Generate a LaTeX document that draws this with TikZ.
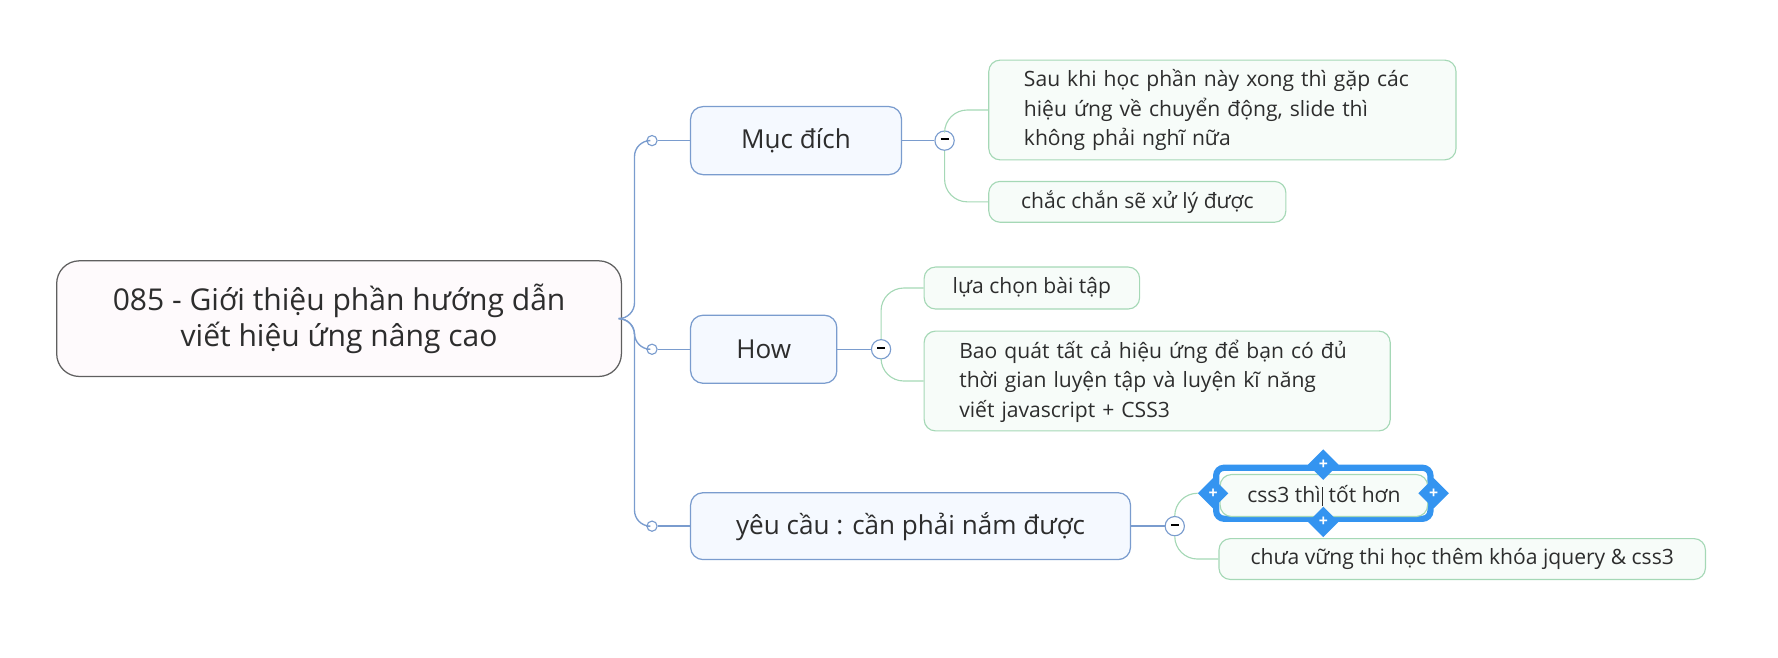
\documentclass[tikz,border=0pt]{standalone}
\usepackage{fontspec}
\setmainfont{Open Sans}
\usetikzlibrary{shapes.geometric}

\definecolor{inkgray}{RGB}{45,45,45}
\definecolor{rootline}{RGB}{95,95,95}
\definecolor{rootfill}{RGB}{254,250,252}
\definecolor{branchline}{RGB}{122,156,206}
\definecolor{branchfill}{RGB}{245,249,255}
\definecolor{leafline}{RGB}{165,216,182}
\definecolor{leaffill}{RGB}{247,252,249}
\definecolor{pickblue}{RGB}{52,148,240}

\begin{document}
\begin{tikzpicture}[x=1pt, y=-1pt,
  rootbox/.style={draw=rootline, fill=rootfill, line width=1.1pt, rounded corners=20pt,
    text=inkgray, align=center, font=\fontsize{26.5}{32}\selectfont},
  branchbox/.style={draw=branchline, fill=branchfill, line width=1.1pt, rounded corners=11pt,
    text=inkgray, font=\fontsize{23}{28}\selectfont},
  leafbox/.style={draw=leafline, fill=leaffill, line width=1pt, rounded corners=10pt,
    text=inkgray, font=\fontsize{18.6}{26}\selectfont},
  noteleaf/.style={leafbox, align=left, inner xsep=31pt},
  knob/.style={circle, draw=branchline, fill=white, line width=1pt, minimum size=9pt, inner sep=0pt},
  fold/.style={circle, draw=branchline, fill=white, line width=1pt, minimum size=17pt, inner sep=0pt},
  pickframe/.style={draw=pickblue, line width=5.5pt, rounded corners=7pt},
  grip/.style={diamond, fill=pickblue, minimum size=27pt, inner sep=0pt, text=white,
    font=\bfseries\fontsize{14}{14}\selectfont},
  trunk/.style={draw=branchline, line width=1.2pt, rounded corners=14pt},
  twig/.style={draw=leafline, line width=1pt, rounded corners=20pt}]
  \useasboundingbox (0,0) rectangle (1568,579.4);

  % central topic
  \node[rootbox, minimum width=498pt, minimum height=102pt] (root) at (299,281)
    {085 - Giới thiệu phần hướng dẫn\\viết hiệu ứng nâng cao};

  % main branches
  \node[branchbox, minimum width=186pt, minimum height=60pt] (purpose) at (702,124) {Mục đích};
  \node[branchbox, minimum width=129pt, minimum height=60pt] (how) at (673.5,308) {How};
  \node[branchbox, minimum width=388pt, minimum height=59pt] (require) at (803,464) {yêu cầu : cần phải nắm được};

  \node[knob] (knobA) at (575,124) {};
  \node[knob] (knobB) at (575,308) {};
  \node[knob] (knobC) at (575,464) {};

  \node[fold] (foldA) at (833,124) {\rule[2.5pt]{7pt}{1.6pt}};
  \node[fold] (foldB) at (777,308) {\rule[2.5pt]{7pt}{1.6pt}};
  \node[fold] (foldC) at (1036,464) {\rule[2.5pt]{7pt}{1.6pt}};

  % leaves of Muc dich
  \node[noteleaf, text width=350pt, minimum height=88pt] (afterwards) at (1078,97)
    {\mbox{Sau khi học phần này xong thì gặp các}\\\mbox{hiệu ứng về chuyển động, slide thì}\\\mbox{không phải nghĩ nữa}};
  \node[leafbox, minimum width=262pt, minimum height=36pt] (surely) at (1003,178) {chắc chắn sẽ xử lý được};

  % leaves of How
  \node[leafbox, minimum width=190pt, minimum height=37pt] (choose) at (910,254) {lựa chọn bài tập};
  \node[noteleaf, text width=349pt, minimum height=88pt] (cover) at (1020.5,336)
    {\mbox{Bao quát tất cả hiệu ứng để bạn có đủ}\\\mbox{thời gian luyện tập và luyện kĩ năng}\\\mbox{viết javascript + CSS3}};

  % leaves of yeu cau
  \node[pickframe, minimum width=189pt, minimum height=45pt] (pick) at (1167,435) {};
  \node[leafbox, minimum width=183pt, minimum height=37pt] (better) at (1167.5,437)
    {css3 thì\kern1pt\rule[-3.5pt]{1.2pt}{17pt}\ tốt hơn};
  \node[grip] (gripN) at (pick.north) {+};
  \node[grip] (gripS) at (pick.south) {+};
  \node[grip] (gripW) at (pick.west) {+};
  \node[grip] (gripE) at (pick.east) {+};
  \node[leafbox, minimum width=429pt, minimum height=36pt] (weak) at (1289.5,493)
    {chưa vững thi học thêm khóa jquery \& css3};

  % connectors
  \draw[trunk] (root.east) -- ++(11,0) |- (knobA);
  \draw[trunk] (root.east) -- ++(11,0) |- (knobB);
  \draw[trunk] (root.east) -- ++(11,0) |- (knobC);
  \draw[trunk] (knobA) -- (purpose);
  \draw[trunk] (knobB) -- (how);
  \draw[trunk] (knobC) -- (require);
  \draw[trunk] (purpose) -- (foldA);
  \draw[trunk] (how) -- (foldB);
  \draw[trunk] (require) -- (foldC);

  \draw[twig] (foldA.north) |- (afterwards.west);
  \draw[twig] (foldA.south) |- (surely.west);
  \draw[twig] (foldB.north) |- (choose.west);
  \draw[twig] (foldB.south) |- (cover.west);
  \draw[twig] (foldC.north) |- (gripW.west);
  \draw[twig] (foldC.south) |- (weak.west);
\end{tikzpicture}
\end{document}
